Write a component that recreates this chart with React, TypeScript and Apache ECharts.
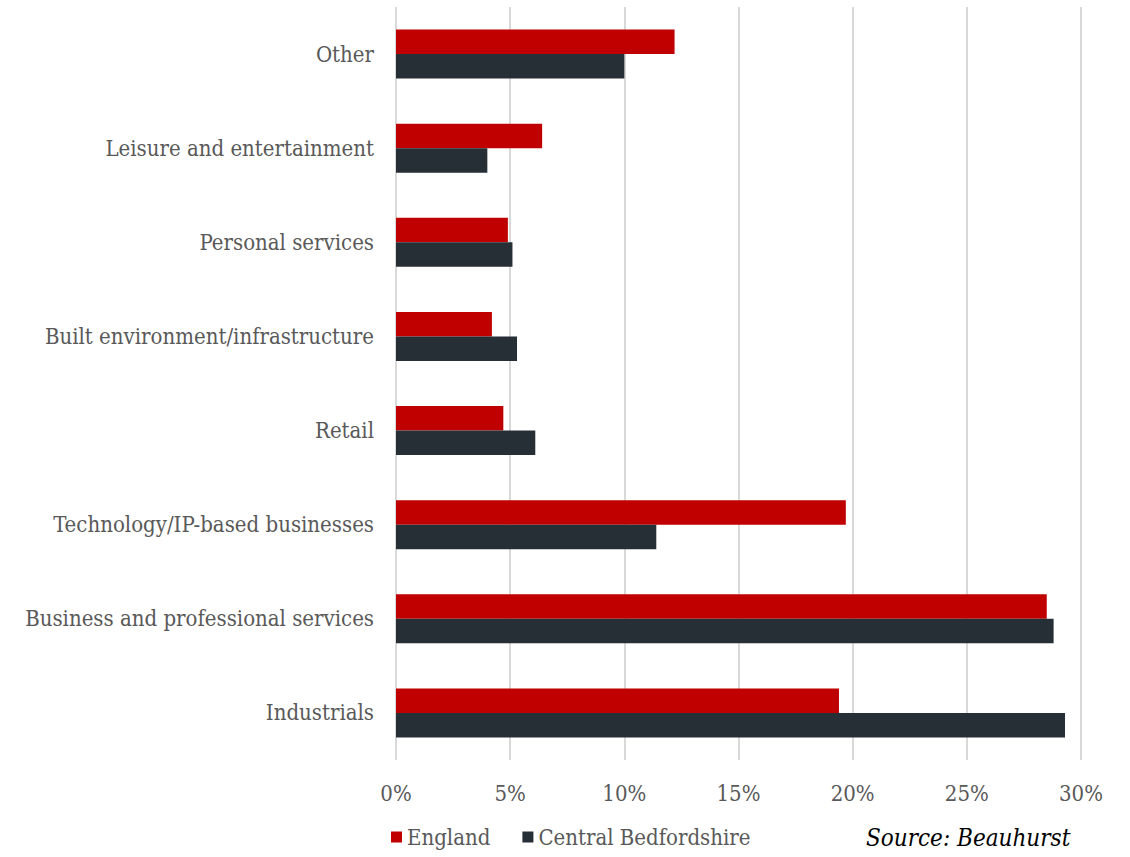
import React, { useEffect, useRef } from "react";
import * as echarts from "echarts";

const categories = [
  "Industrials",
  "Business and professional services",
  "Technology/IP-based businesses",
  "Retail",
  "Built environment/infrastructure",
  "Personal services",
  "Leisure and entertainment",
  "Other",
];
const england = [19.4, 28.5, 19.7, 4.7, 4.2, 4.9, 6.4, 12.2];
const centralBeds = [29.3, 28.8, 11.4, 6.1, 5.3, 5.1, 4.0, 10.0];

const FONT = "'DejaVu Serif Condensed', 'Liberation Serif', serif";
const TXT = "#595959";

export default function App() {
  const ref = useRef<HTMLDivElement>(null);
  useEffect(() => {
    const chart = echarts.init(ref.current!, null, { renderer: "svg" });
    chart.setOption({
      animation: false,
      textStyle: { fontFamily: FONT },
      grid: { left: 396, right: 49, top: 7, bottom: 97, containLabel: false },
      legend: {
        data: ["England", "Central Bedfordshire"],
        left: 386,
        top: 826,
        padding: [0, 5, 0, 5],
        itemWidth: 11,
        itemHeight: 11,
        itemGap: 32,
        icon: "rect",
        textStyle: { fontFamily: FONT, fontSize: 22, color: TXT },
      },
      xAxis: {
        type: "value",
        min: 0,
        max: 30,
        interval: 5,
        axisLine: { show: false },
        axisTick: { show: false },
        axisLabel: {
          formatter: "{value}%",
          fontFamily: FONT,
          fontSize: 22,
          color: TXT,
          margin: 22,
        },
        splitLine: { lineStyle: { color: "#d9d9d9", width: 2 } },
      },
      yAxis: {
        type: "category",
        data: categories,
        axisLine: { show: false },
        axisTick: { show: false },
        axisLabel: { fontFamily: FONT, fontSize: 22, color: TXT, margin: 22 },
      },
      series: [
        {
          name: "England",
          type: "bar",
          data: england,
          itemStyle: { color: "#C00000" },
          barGap: "0%",
          barCategoryGap: "48%",
        },
        {
          name: "Central Bedfordshire",
          type: "bar",
          data: centralBeds,
          itemStyle: { color: "#262E36" },
          barGap: "0%",
          barCategoryGap: "48%",
        },
      ],
      graphic: [
        {
          type: "text",
          left: 866,
          top: 826,
          style: {
            text: "Source: Beauhurst",
            font: "italic 24px " + FONT,
            fill: "#000",
          },
        },
      ],
    });
    return () => chart.dispose();
  }, []);
  return (
    <div
      ref={ref}
      style={{ position: "fixed", left: 0, top: 0, width: 1130, height: 857, background: "#fff" }}
    />
  );
}
